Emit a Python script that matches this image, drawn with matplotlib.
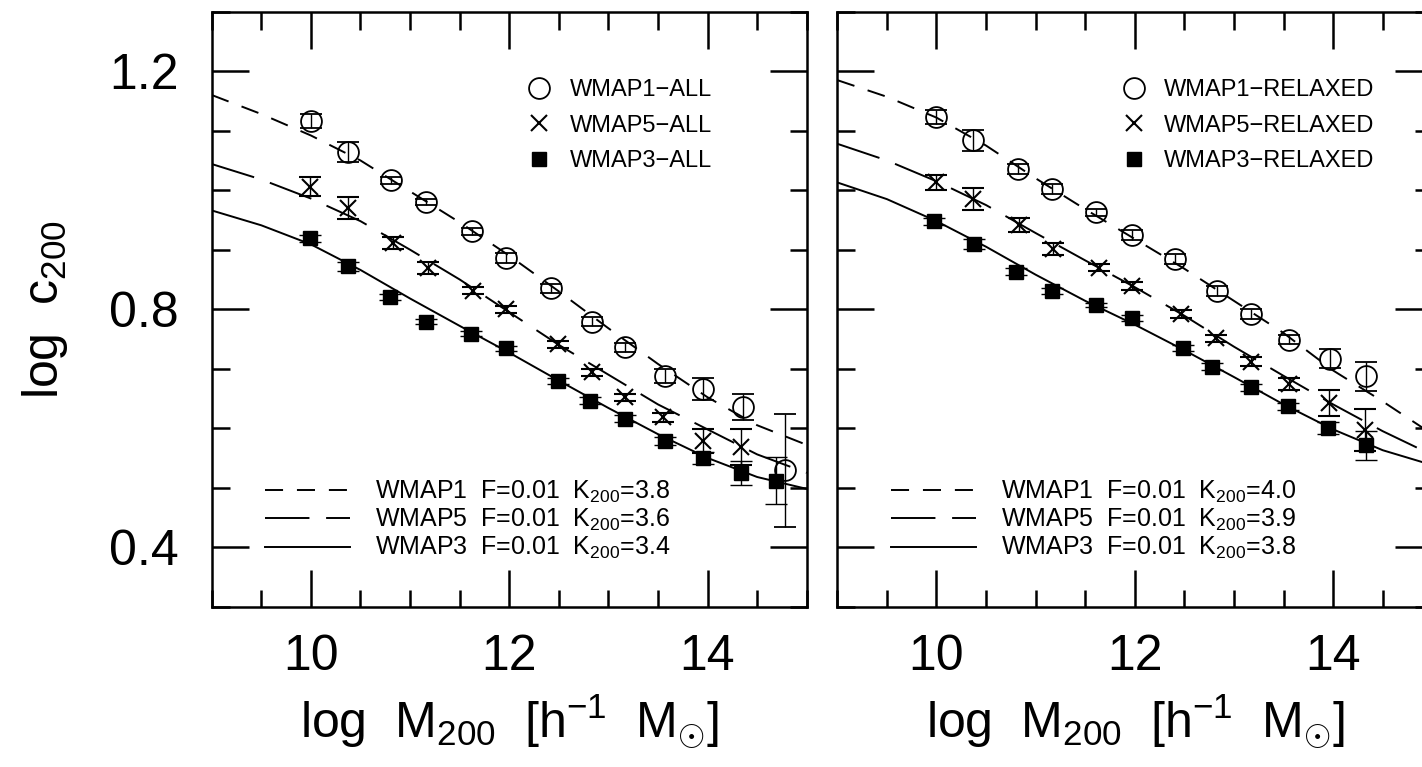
import numpy as np
import matplotlib.pyplot as plt
from matplotlib.lines import Line2D

plt.rcParams['font.family'] = ['Liberation Sans', 'DejaVu Sans']
plt.rcParams['mathtext.fontset'] = 'custom'
plt.rcParams['mathtext.rm'] = 'Liberation Sans'
plt.rcParams['mathtext.it'] = 'Liberation Sans:italic'
plt.rcParams['lines.scale_dashes'] = False

# ---- simulation points, ALL haloes (left panel)
all_wmap1_m = [10.00, 10.37, 10.81, 11.16, 11.62, 11.97, 12.42, 12.83, 13.17, 13.57, 13.95, 14.36, 14.78]
all_wmap1_c = [1.116, 1.064, 1.017, 0.980, 0.931, 0.886, 0.835, 0.779, 0.736, 0.688, 0.666, 0.636, 0.529]
all_wmap1_e = [0.012, 0.017, 0.006, 0.005, 0.006, 0.008, 0.008, 0.008, 0.008, 0.012, 0.018, 0.022, 0.095]

all_wmap5_m = [9.99, 10.37, 10.83, 11.18, 11.63, 11.97, 12.49, 12.83, 13.17, 13.55, 13.95, 14.34]
all_wmap5_c = [1.006, 0.970, 0.911, 0.869, 0.831, 0.800, 0.741, 0.694, 0.652, 0.618, 0.579, 0.568]
all_wmap5_e = [0.016, 0.018, 0.010, 0.010, 0.006, 0.006, 0.006, 0.006, 0.006, 0.008, 0.020, 0.030]

all_wmap3_m = [9.99, 10.37, 10.80, 11.16, 11.61, 11.97, 12.49, 12.81, 13.17, 13.57, 13.95, 14.34, 14.69]
all_wmap3_c = [0.919, 0.872, 0.820, 0.779, 0.759, 0.734, 0.680, 0.646, 0.616, 0.578, 0.550, 0.525, 0.512]
all_wmap3_e = [0.006, 0.008, 0.005, 0.004, 0.004, 0.004, 0.005, 0.006, 0.006, 0.007, 0.010, 0.020, 0.040]

# ---- simulation points, RELAXED haloes (right panel)
rel_wmap1_m = [10.00, 10.37, 10.82, 11.17, 11.61, 11.97, 12.41, 12.83, 13.17, 13.56, 13.97, 14.33]
rel_wmap1_c = [1.123, 1.084, 1.036, 1.002, 0.963, 0.925, 0.884, 0.831, 0.792, 0.749, 0.717, 0.687]
rel_wmap1_e = [0.012, 0.018, 0.008, 0.008, 0.006, 0.008, 0.008, 0.008, 0.008, 0.008, 0.016, 0.024]

rel_wmap5_m = [10.00, 10.37, 10.83, 11.18, 11.64, 11.97, 12.47, 12.82, 13.17, 13.56, 13.96, 14.32]
rel_wmap5_c = [1.013, 0.985, 0.942, 0.901, 0.870, 0.839, 0.792, 0.751, 0.712, 0.675, 0.642, 0.597]
rel_wmap5_e = [0.012, 0.018, 0.012, 0.010, 0.006, 0.006, 0.006, 0.006, 0.008, 0.010, 0.022, 0.035]

rel_wmap3_m = [9.98, 10.38, 10.80, 11.17, 11.61, 11.97, 12.49, 12.78, 13.17, 13.54, 13.95, 14.33]
rel_wmap3_c = [0.948, 0.910, 0.863, 0.830, 0.807, 0.786, 0.734, 0.703, 0.669, 0.637, 0.600, 0.571]
rel_wmap3_e = [0.006, 0.008, 0.006, 0.005, 0.004, 0.005, 0.005, 0.006, 0.006, 0.006, 0.010, 0.025]

# ---- model curves
model_m = [9.0, 9.5, 10.0, 10.5, 11.0, 11.5, 12.0, 12.5, 13.0, 13.5, 14.0, 14.5, 15.0]
all_model_wmap1 = [1.160, 1.128, 1.092, 1.050, 0.998, 0.946, 0.890, 0.830, 0.768, 0.708, 0.652, 0.605, 0.572]
all_model_wmap5 = [1.044, 1.018, 0.986, 0.948, 0.900, 0.850, 0.795, 0.740, 0.690, 0.640, 0.598, 0.556, 0.525]
all_model_wmap3 = [0.966, 0.941, 0.909, 0.866, 0.818, 0.772, 0.727, 0.680, 0.634, 0.590, 0.550, 0.518, 0.498]
rel_model_wmap1 = [1.185, 1.157, 1.122, 1.075, 1.020, 0.968, 0.918, 0.868, 0.814, 0.760, 0.697, 0.645, 0.590]
rel_model_wmap5 = [1.078, 1.050, 1.015, 0.975, 0.928, 0.882, 0.837, 0.789, 0.737, 0.688, 0.640, 0.595, 0.555]
rel_model_wmap3 = [1.013, 0.985, 0.948, 0.905, 0.858, 0.814, 0.774, 0.731, 0.686, 0.640, 0.598, 0.563, 0.538]

all_K = ['3.8', '3.6', '3.4']
rel_K = ['4.0', '3.9', '3.8']

short_dash = (0, (13, 10))
long_dash = (0, (32, 12))

fig = plt.figure(figsize=(14.22, 7.67), dpi=100)
W, H = 1422.0, 767.0
ax1 = fig.add_axes([211.7 / W, (H - 606.7) / H, 595 / W, 595 / H])
ax2 = fig.add_axes([837.3 / W, (H - 606.7) / H, 595 / W, 595 / H])


def draw_panel(ax, pts, curves, K, tag):
    ls_list = [short_dash, long_dash, '-']
    for y, ls in zip(curves, ls_list):
        ax.plot(model_m, y, color='k', lw=1.4, ls=ls, zorder=1)

    (m1, c1, e1), (m5, c5, e5), (m3, c3, e3) = pts
    eb = dict(ecolor='k', elinewidth=1.0, capsize=8, capthick=1.0, zorder=3)
    ax.errorbar(m1, c1, yerr=e1, fmt='o', ms=15, mfc='none', mec='k', mew=1.3, **eb)
    ax.errorbar(m5, c5, yerr=e5, fmt='x', ms=11, mec='k', mew=1.5, **eb)
    ax.errorbar(m3, c3, yerr=e3, fmt='s', ms=10.5, mfc='k', mec='k', **eb)

    ax.set_xlim(9, 15)
    ax.set_ylim(0.3, 1.3)
    ax.set_xticks([10, 12, 14])
    ax.set_xticks(np.arange(9, 15.01, 0.5), minor=True)
    ax.set_yticks([0.4, 0.8, 1.2])
    ax.set_yticks(np.arange(0.3, 1.31, 0.1), minor=True)
    ax.tick_params(which='both', direction='in', top=True, right=True, width=1.8)
    ax.tick_params(which='major', length=26.6, labelsize=36)
    ax.tick_params(which='minor', length=12.6)
    ax.tick_params(axis='x', pad=20)
    ax.tick_params(axis='y', pad=24)
    for s in ax.spines.values():
        s.set_linewidth(1.8)

    ax.set_xlabel(r'log  M$_{200}$  [h$^{-1}$  M$_{\odot}$]', fontsize=36, labelpad=8)

    # symbol legend (top right)
    hs = [Line2D([], [], ls='none', marker='o', ms=15, mfc='none', mec='k', mew=1.3),
          Line2D([], [], ls='none', marker='x', ms=11, mec='k', mew=1.5),
          Line2D([], [], ls='none', marker='s', ms=10.5, mfc='k', mec='k')]
    labs = ['WMAP1\u2212' + tag, 'WMAP5\u2212' + tag, 'WMAP3\u2212' + tag]
    x0 = 0.530 if tag == 'ALL' else 0.478
    leg1 = ax.legend(hs, labs, loc='upper left', bbox_to_anchor=(x0, 0.887),
                     frameon=False, fontsize=17, handlelength=1.0, handletextpad=0.8,
                     labelspacing=0.58, borderpad=0, borderaxespad=0)
    ax.add_artist(leg1)

    # model legend (bottom left)
    hl = [Line2D([], [], color='k', lw=1.4, ls=ls) for ls in ls_list]
    names = ['WMAP1', 'WMAP5', 'WMAP3']
    labl = [n + '  F=0.01  K$_{200}$=' + k for n, k in zip(names, K)]
    ax.legend(hl, labl, loc='lower left', bbox_to_anchor=(0.09, 0.076),
              frameon=False, fontsize=18, handlelength=3.4, handletextpad=1.0,
              labelspacing=0.08, borderpad=0, borderaxespad=0)


draw_panel(ax1,
           [(all_wmap1_m, all_wmap1_c, all_wmap1_e),
            (all_wmap5_m, all_wmap5_c, all_wmap5_e),
            (all_wmap3_m, all_wmap3_c, all_wmap3_e)],
           [all_model_wmap1, all_model_wmap5, all_model_wmap3], all_K, 'ALL')
draw_panel(ax2,
           [(rel_wmap1_m, rel_wmap1_c, rel_wmap1_e),
            (rel_wmap5_m, rel_wmap5_c, rel_wmap5_e),
            (rel_wmap3_m, rel_wmap3_c, rel_wmap3_e)],
           [rel_model_wmap1, rel_model_wmap5, rel_model_wmap3], rel_K, 'RELAXED')

ax1.set_ylabel('log  c$_{200}$', fontsize=36)
ax1.yaxis.set_label_coords(-0.238, 0.5)
ax2.tick_params(labelleft=False)

fig.savefig('out.png', dpi=100)
